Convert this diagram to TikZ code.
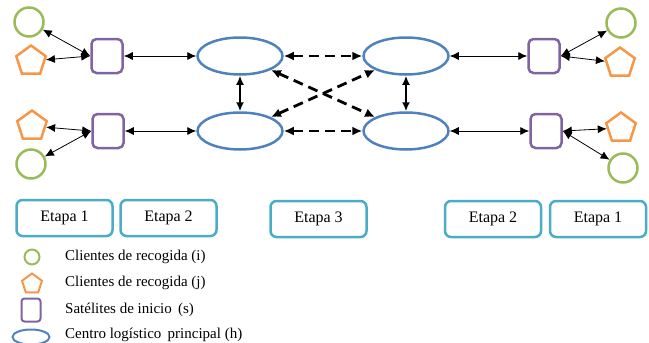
\documentclass[tikz,border=0pt]{standalone}
\usepackage{fontspec}
\setmainfont{Liberation Serif}
\usetikzlibrary{shapes.geometric,arrows.meta}
\definecolor{cligreen}{HTML}{9BBB59}
\definecolor{cliorange}{HTML}{F79646}
\definecolor{satpurple}{HTML}{8064A2}
\definecolor{hubblue}{HTML}{4F81BD}
\definecolor{etapablue}{HTML}{4BACC6}

\tikzset{
  cli/.style={circle,draw=cligreen,line width=2.5pt,minimum size=29pt,inner sep=0pt},
  pent/.style={regular polygon,regular polygon sides=5,draw=cliorange,line width=2.5pt,minimum size=31pt,inner sep=0pt},
  sat/.style={rectangle,rounded corners=5pt,draw=satpurple,line width=2.5pt,minimum width=31pt,minimum height=34pt,inner sep=0pt},
  hub/.style={ellipse,draw=hubblue,line width=2.5pt,minimum width=85pt,minimum height=37pt,inner sep=0pt},
  etapa/.style={rectangle,rounded corners=6pt,draw=etapablue,line width=2.5pt,minimum width=96pt,minimum height=36pt,font=\fontsize{16}{18}\selectfont},
  legtext/.style={anchor=west,inner sep=0pt,font=\fontsize{15}{17}\selectfont},
  link/.style={{Latex[length=9pt,width=8pt]}-{Latex[length=9pt,width=8pt]},line width=0.8pt},
  hublink/.style={{Latex[length=10pt,width=9pt]}-{Latex[length=10pt,width=9pt]},line width=2.8pt,dash pattern=on 10pt off 6pt},
  hubvert/.style={{Latex[length=9pt,width=8pt]}-{Latex[length=9pt,width=8pt]},line width=2.8pt}
}

\begin{document}
\begin{tikzpicture}[x=1pt,y=-1pt]
\useasboundingbox (0,0) rectangle (649,343);
    % left side
    \node[cli]  (cTL) at (29,22) {};
    \node[pent] (pTL) at (31,61) {};
    \node[sat]  (sTL) at (107,56) {};
    \node[pent] (pBL) at (32,126) {};
    \node[cli]  (cBL) at (31,164) {};
    \node[sat]  (sBL) at (108,131) {};
    % hubs
    \node[hub] (hTL) at (240,56) {};
    \node[hub] (hTR) at (406,56) {};
    \node[hub] (hBL) at (240,131) {};
    \node[hub] (hBR) at (406,131) {};
    % right side
    \node[sat]  (sTR) at (544,56) {};
    \node[cli]  (cTR) at (621,23) {};
    \node[pent] (pTR) at (620,63) {};
    \node[sat]  (sBR) at (546,131) {};
    \node[pent] (pBR) at (621,128) {};
    \node[cli]  (cBR) at (623,168) {};

    % connectors
    \draw[link] (sTL.west) -- (cTL);
    \draw[link] (sTL.west) -- (pTL);
    \draw[link] (sBL.west) -- (pBL);
    \draw[link] (sBL.west) -- (cBL);
    \draw[link] (sTL) -- (hTL);
    \draw[link] (sBL) -- (hBL);
    \draw[link] (hTR) -- (sTR);
    \draw[link] (hBR) -- (sBR);
    \draw[link] (sTR.east) -- (cTR);
    \draw[link] (sTR.east) -- (pTR);
    \draw[link] (sBR.east) -- (pBR);
    \draw[link] (sBR.east) -- (cBR);

    \draw[hublink] (hTL) -- (hTR);
    \draw[hublink] (hBL) -- (hBR);
    \draw[hublink] (hTL) -- (hBR);
    \draw[hublink] (hBL) -- (hTR);
    \draw[hubvert] (hTL) -- (hBL);
    \draw[hubvert] (hTR) -- (hBR);

    % stages
    \node[etapa] (e1L) at (64.5,218) {Etapa 1};
    \node[etapa] (e2L) at (168.5,218) {Etapa 2};
    \node[etapa] (e3)  at (318.5,219) {Etapa 3};
    \node[etapa] (e2R) at (493,219) {Etapa 2};
    \node[etapa] (e1R) at (598,219) {Etapa 1};

    % legend
    \node[cli,minimum size=15pt,line width=2pt] (lgCli) at (32,257) {};
    \node[legtext] (lgCliTxt) at (65,257) {Clientes de recogida (i)};
    \node[pent,minimum size=21pt,line width=2pt] (lgPent) at (32,284) {};
    \node[legtext] (lgPentTxt) at (65,283) {Clientes de recogida (j)};
    \node[sat,minimum width=19pt,minimum height=23pt,rounded corners=3pt,line width=2pt] (lgSat) at (31,310) {};
    \node[legtext] (lgSatTxt) at (65,310) {Satélites de inicio\, (s)};
    \node[hub,minimum width=37pt,minimum height=15pt,line width=2pt] (lgHub) at (31,337) {};
    \node[legtext] (lgHubTxt) at (65,335) {Centro logístico\, principal (h)};
\end{tikzpicture}
\end{document}
